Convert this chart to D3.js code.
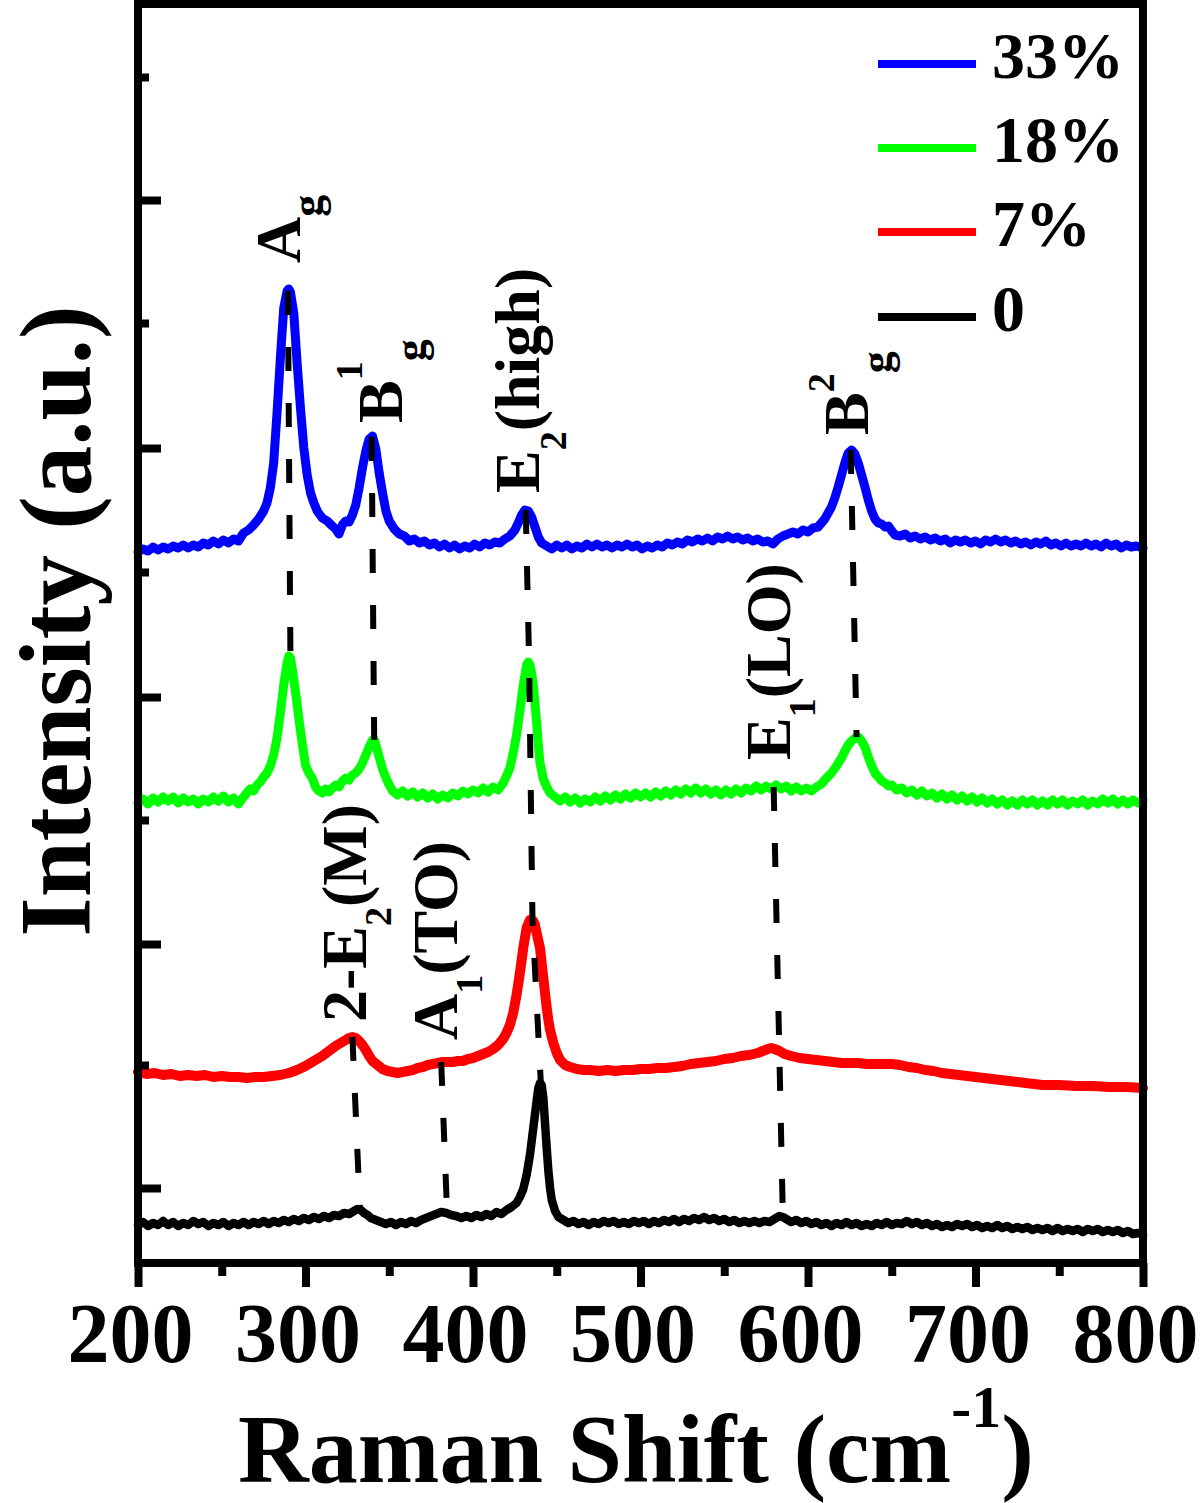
<!DOCTYPE html>
<html>
<head>
<meta charset="utf-8">
<script src="https://cdn.jsdelivr.net/npm/d3@7/dist/d3.min.js"></script>
<style>
  html, body { margin: 0; padding: 0; background: #fff; }
  svg { display: block; }
  text { font-family: "Liberation Serif", "Times New Roman", serif; font-weight: bold; fill: #000; }
</style>
</head>
<body>
<svg id="chart" width="1200" height="1503"></svg>
<script>
// ---------------- DATA ----------------
const seriesNames = ["33%", "18%", "7%", "0"];
const seriesColors = ["#0000ff", "#00ff00", "#ff0000", "#000000"];

const s33 = [[200,711],[203,714],[206,712],[209,716],[212,713],[215,716],[218,714],[221,717],[224,715],[227,718],[230,715],[233,718],[236,716],[239,720],[242,718],[245,722],[248,719],[251,723],[254,720],[257,724],[260,722],[263,730],[266,733],[269,738],[272,744],[275,752],[277,760],[279,775],[281,800],[283,850],[285,905],[287,955],[289,972],[290,974],[291,971],[293,950],[295,900],[297,855],[299,815],[301,788],[303,770],[305,760],[307,752],[310,745],[313,742],[316,737],[318,734],[320,729],[322,738],[324,742],[326,741],[328,748],[330,758],[332,775],[334,795],[336,812],[338,824],[340,827],[342,814],[344,790],[346,770],[348,752],[350,742],[353,734],[356,729],[359,727],[362,722],[365,724],[368,720],[371,722],[374,718],[377,720],[380,716],[383,719],[386,715],[389,718],[392,714],[395,717],[398,715],[401,719],[404,716],[407,720],[410,718],[413,721],[416,720],[419,724],[422,727],[425,733],[427,740],[429,748],[431,753],[433,752],[435,746],[437,736],[439,726],[441,720],[444,717],[447,714],[450,718],[453,715],[456,718],[459,714],[462,717],[465,715],[468,719],[471,716],[474,719],[477,716],[480,718],[483,715],[486,718],[489,716],[492,719],[495,716],[498,718],[501,714],[504,717],[507,715],[510,718],[513,716],[516,720],[519,718],[522,721],[525,719],[528,723],[531,721],[534,724],[537,722],[540,725],[543,722],[546,726],[549,724],[552,727],[555,724],[558,726],[561,723],[564,725],[567,722],[570,724],[573,721],[576,722],[579,719],[582,724],[585,727],[588,729],[591,731],[594,729],[597,733],[600,731],[603,735],[606,736],[608,740],[610,744],[612,750],[614,756],[616,765],[618,776],[620,788],[622,800],[624,810],[626,813],[628,809],[630,800],[632,788],[634,776],[636,763],[638,752],[640,744],[642,740],[644,739],[646,736],[648,737],[650,732],[652,728],[655,727],[658,729],[661,725],[664,727],[667,724],[670,726],[673,723],[676,725],[679,722],[682,724],[685,720],[688,723],[691,721],[694,723],[697,720],[700,722],[703,719],[706,723],[709,721],[712,724],[715,721],[718,723],[721,720],[724,722],[727,719],[730,721],[733,718],[736,721],[739,719],[742,722],[745,718],[748,720],[751,717],[754,720],[757,717],[760,719],[763,717],[766,720],[769,717],[772,719],[775,716],[778,720],[781,717],[784,719],[787,715],[790,718],[793,716],[796,717],[800,715]];

const s18 = [[200,460],[203,464],[206,459],[209,465],[212,461],[215,466],[218,462],[221,466],[224,460],[227,465],[230,461],[233,464],[236,459],[239,464],[242,461],[245,466],[248,462],[251,467],[254,461],[257,465],[260,459],[263,466],[265,470],[267,474],[269,472],[271,478],[273,481],[275,486],[277,490],[279,497],[281,508],[283,525],[285,550],[287,578],[289,600],[290,607],[291,605],[292,595],[294,572],[296,545],[298,520],[300,498],[302,490],[304,485],[306,476],[308,472],[310,470],[312,474],[314,471],[316,475],[318,478],[320,476],[322,482],[324,485],[326,483],[328,488],[330,490],[332,494],[334,500],[336,508],[338,516],[340,523],[341,524],[342,518],[344,506],[346,494],[348,485],[350,478],[352,472],[355,468],[358,472],[361,467],[364,471],[367,466],[370,470],[373,465],[376,469],[379,464],[382,468],[385,465],[388,470],[391,467],[394,472],[397,469],[400,473],[403,470],[406,475],[409,471],[412,476],[415,473],[418,480],[420,487],[422,495],[424,510],[426,528],[428,552],[430,578],[432,598],[433,601],[434,598],[435,590],[436,578],[437,560],[438,540],[439,518],[440,500],[442,484],[444,476],[446,470],[449,466],[452,462],[455,466],[458,461],[461,465],[464,460],[467,464],[470,461],[473,466],[476,462],[479,467],[482,463],[485,468],[488,464],[491,469],[494,465],[497,470],[500,466],[503,470],[506,466],[509,471],[512,467],[515,472],[518,468],[521,473],[524,469],[527,474],[530,470],[533,475],[536,470],[539,474],[542,469],[545,473],[548,468],[551,473],[554,469],[557,474],[560,470],[563,475],[566,472],[569,477],[572,473],[575,477],[578,474],[581,478],[584,474],[587,477],[590,472],[593,476],[596,472],[599,475],[602,472],[605,476],[608,479],[611,485],[614,490],[617,497],[620,505],[622,512],[624,518],[626,522],[628,525],[630,526],[632,522],[634,516],[636,506],[638,497],[640,490],[642,486],[644,482],[646,480],[648,477],[650,478],[653,473],[656,475],[659,470],[662,473],[665,468],[668,472],[671,467],[674,470],[677,465],[680,469],[683,464],[686,468],[689,463],[692,467],[695,462],[698,466],[701,461],[704,465],[707,460],[710,464],[713,459],[716,463],[719,458],[722,462],[725,458],[728,463],[731,459],[734,463],[737,458],[740,462],[743,458],[746,463],[749,459],[752,463],[755,458],[758,462],[761,459],[764,463],[767,458],[770,462],[773,459],[776,464],[779,460],[782,464],[785,459],[788,463],[791,459],[794,463],[797,460],[800,463]];

const s7 = [[200,191],[205,189],[210,190],[215,188],[220,189],[225,187],[230,188],[235,187],[240,188],[245,186],[250,187],[255,186],[260,186],[265,185],[270,186],[275,186],[280,187],[285,188],[290,190],[295,193],[300,197],[305,202],[310,207],[314,212],[318,217],[321,220],[324,223],[326,225],[328,226],[330,225],[332,222],[334,218],[336,213],[338,207],[340,202],[343,198],[346,194],[349,192],[352,191],[355,190],[358,191],[361,192],[364,193],[367,195],[370,196],[373,198],[376,199],[379,200],[382,201],[385,201],[388,201],[391,202],[394,202],[397,204],[400,205],[403,207],[406,209],[409,211],[412,214],[415,218],[418,224],[420,230],[422,238],[424,250],[426,268],[428,290],[430,315],[432,335],[434,343],[436,342],[437,338],[438,330],[440,315],[441,300],[442,285],[443,270],[444,255],[445,243],[446,233],[448,220],[450,210],[452,203],[455,198],[458,196],[462,194],[466,193],[470,193],[475,192],[480,193],[485,192],[490,193],[495,193],[500,194],[505,194],[510,195],[515,195],[520,196],[525,197],[530,199],[535,200],[540,201],[545,202],[550,204],[555,205],[560,207],[565,208],[570,210],[573,212],[576,214],[578,215],[580,214],[583,212],[586,209],[590,207],[595,205],[600,204],[605,203],[610,202],[615,201],[620,200],[625,200],[630,200],[635,199],[640,199],[645,199],[650,199],[655,198],[660,196],[665,195],[670,193],[675,192],[680,190],[685,189],[690,188],[695,187],[700,186],[710,184],[720,182],[730,180],[740,178],[750,178],[760,177],[770,177],[780,176],[790,176],[800,175]];

const s0 = [[200,38],[203,41],[206,37],[209,40],[212,38],[215,42],[218,38],[221,41],[224,37],[227,40],[230,38],[233,42],[236,39],[239,41],[242,37],[245,40],[248,38],[251,41],[254,37],[257,40],[260,38],[263,41],[266,38],[269,41],[272,39],[275,42],[278,39],[281,42],[284,40],[287,43],[290,41],[293,44],[296,42],[299,45],[302,43],[305,46],[308,44],[311,47],[314,45],[317,48],[320,47],[323,50],[326,49],[329,52],[331,54],[333,53],[335,50],[337,48],[339,45],[342,43],[345,41],[348,39],[351,41],[354,38],[357,41],[360,39],[363,42],[366,40],[369,43],[372,45],[375,47],[378,49],[381,51],[384,50],[387,48],[390,47],[393,45],[396,47],[399,45],[402,48],[405,46],[408,49],[411,47],[414,51],[417,49],[420,53],[423,56],[426,60],[428,66],[430,74],[432,88],[434,108],[436,135],[438,162],[439,175],[440,180],[441,178],[442,165],[443,140],[444,115],[445,92],[446,75],[447,63],[449,52],[451,46],[454,43],[457,40],[460,42],[463,39],[466,41],[469,38],[472,41],[475,39],[478,42],[481,40],[484,42],[487,39],[490,41],[493,39],[496,42],[499,40],[502,42],[505,39],[508,42],[511,40],[514,43],[517,41],[520,44],[523,41],[526,44],[529,42],[532,45],[535,43],[538,46],[541,43],[544,45],[547,42],[550,44],[553,41],[556,43],[559,40],[562,42],[565,40],[568,42],[571,40],[574,42],[577,41],[580,44],[583,47],[585,46],[587,44],[590,41],[593,43],[596,40],[599,42],[602,39],[605,41],[608,38],[611,40],[614,37],[617,40],[620,38],[623,41],[626,38],[629,40],[632,37],[635,39],[638,37],[641,40],[644,38],[647,41],[650,38],[653,40],[656,39],[659,42],[662,39],[665,41],[668,38],[671,40],[674,37],[677,39],[680,36],[683,38],[686,36],[689,39],[692,37],[695,39],[698,36],[701,38],[704,35],[707,37],[710,35],[713,38],[716,35],[719,37],[722,34],[725,36],[728,34],[731,36],[734,33],[737,35],[740,33],[743,35],[746,32],[749,35],[752,32],[755,34],[758,32],[761,34],[764,31],[767,34],[770,32],[773,34],[776,31],[779,33],[782,31],[785,33],[788,30],[791,32],[794,29],[797,30],[800,28]];

// dashed guide lines linking peaks across spectra (x in cm-1, intensity a.u.)
const guideAg   = [[289.5,972],[291,606]];
const guideBg1  = [[339.5,826],[341,523]];
const guideE2   = [[431.5,753],[433.5,601],[435.5,343],[440.5,180]];
const guideBg2  = [[625.5,813],[629,526]];
const guideE1LO = [[579.5,476],[585,45]];
const guide2E2M = [[328,226],[332.5,54]];
const guideA1TO = [[381,201],[384.5,52]];

// peak labels: anchor (x, intensity) + parts [text, baseline shift(px), font size]
const peakLabels = [
  {x: 296.7, v: 1000, parts: [["A",0,64],["g",22,44]]},
  {x: 357.6, v: 840,  parts: [["B",0,64],["1",-40,38],["g",23,44]]},
  {x: 439.4, v: 770,  parts: [["E",0,64],["2",27,38],["(high)",0,64]]},
  {x: 635.8, v: 828,  parts: [["B",0,64],["2",-34,38],["g",23,44]]},
  {x: 589.3, v: 503,  parts: [["E",0,64],["1",25,38],["(LO)",0,64]]},
  {x: 336.1, v: 241,  parts: [["2-E",0,64],["2",25,38],["(M)",0,64]]},
  {x: 390.4, v: 223,  parts: [["A",0,64],["1",25,38],["(TO)",0,64]]}
];

const xMajorTicks = [200, 300, 400, 500, 600, 700, 800];
const xMinorTicks = [250, 350, 450, 550, 650, 750];
const yMajorTicks = [75, 319, 566, 815, 1063];
const yMinorTicks = [198, 443, 691, 940, 1186];

// ---------------- DRAW ----------------
(function () {
const svg = d3.select("#chart");
svg.append("rect").attr("width", 1200).attr("height", 1503).attr("fill", "#fff");

const pL = 138, pR = 1143, pT = 4, pB = 1263;
const x = d3.scaleLinear().domain([200, 800]).range([pL, pR]);
const y = d3.scaleLinear().domain([0, 1259]).range([pB, pT]);

const line = d3.line().x(d => x(d[0])).y(d => y(d[1]));

const allSeries = [s33, s18, s7, s0];
const widths = [9, 9, 10, 8.5];
allSeries.forEach((s, i) => {
  svg.append("path").datum(s)
    .attr("d", line)
    .attr("fill", "none")
    .attr("stroke", seriesColors[i])
    .attr("stroke-width", widths[i])
    .attr("stroke-linejoin", "round")
    .attr("stroke-linecap", "round");
});

[guideAg, guideBg1, guideE2, guideBg2, guideE1LO, guide2E2M, guideA1TO].forEach(g => {
  svg.append("path").datum(g)
    .attr("d", line)
    .attr("fill", "none")
    .attr("stroke", "#000")
    .attr("stroke-width", 6)
    .attr("stroke-dasharray", "24,32");
});

// Axes
const axB = svg.append("g").attr("transform", `translate(0,${pB})`)
  .call(d3.axisBottom(x).tickValues(xMajorTicks).tickSize(24).tickFormat(d3.format("d")));
axB.select(".domain").remove();
axB.selectAll(".tick line").attr("stroke", "#000").attr("stroke-width", 8);
axB.selectAll(".tick text")
  .attr("y", 99).attr("dy", null).attr("dx", -8)
  .style("font-family", "'Liberation Serif', 'Times New Roman', serif")
  .style("font-weight", "bold").style("font-size", "84px").attr("fill", "#000");

const axBm = svg.append("g").attr("transform", `translate(0,${pB})`)
  .call(d3.axisBottom(x).tickValues(xMinorTicks).tickSize(13).tickFormat(""));
axBm.select(".domain").remove();
axBm.selectAll(".tick line").attr("stroke", "#000").attr("stroke-width", 8);

const axL = svg.append("g").attr("transform", `translate(${pL},0)`)
  .call(d3.axisLeft(y).tickValues(yMajorTicks).tickSize(-23).tickFormat(""));
axL.select(".domain").remove();
axL.selectAll(".tick line").attr("stroke", "#000").attr("stroke-width", 8);

const axLm = svg.append("g").attr("transform", `translate(${pL},0)`)
  .call(d3.axisLeft(y).tickValues(yMinorTicks).tickSize(-11).tickFormat(""));
axLm.select(".domain").remove();
axLm.selectAll(".tick line").attr("stroke", "#000").attr("stroke-width", 8);

// frame
svg.append("rect")
  .attr("x", pL).attr("y", pT)
  .attr("width", pR - pL).attr("height", pB - pT)
  .attr("fill", "none").attr("stroke", "#000").attr("stroke-width", 8);

// Peak labels (rotated)
peakLabels.forEach(lb => {
  const t = svg.append("text")
    .attr("transform", `translate(${x(lb.x)},${y(lb.v)}) rotate(-90)`);
  let prev = 0;
  lb.parts.forEach(p => {
    t.append("tspan").text(p[0])
      .attr("dy", p[1] - prev)
      .style("font-size", p[2] + "px");
    prev = p[1];
  });
});

// Axis titles
const xt = svg.append("text").attr("x", 238).attr("y", 1482).style("font-size", "98px");
xt.append("tspan").text("Raman Shift (cm");
xt.append("tspan").text("-1").attr("dy", -55).style("font-size", "60px");
xt.append("tspan").text(")").attr("dy", 55).style("font-size", "98px");

svg.append("text")
  .attr("transform", "translate(90,621) rotate(-90)")
  .attr("text-anchor", "middle")
  .style("font-size", "101px")
  .text("Intensity (a.u.)");

// Legend
const legY = [64, 148, 232, 317];
seriesNames.forEach((n, i) => {
  svg.append("line")
    .attr("x1", 878).attr("x2", 976)
    .attr("y1", legY[i]).attr("y2", legY[i])
    .attr("stroke", seriesColors[i]).attr("stroke-width", 8);
  svg.append("text")
    .attr("x", 992).attr("y", legY[i] + 14)
    .style("font-size", "66px")
    .text(n);
});
})();
</script>
</body>
</html>
